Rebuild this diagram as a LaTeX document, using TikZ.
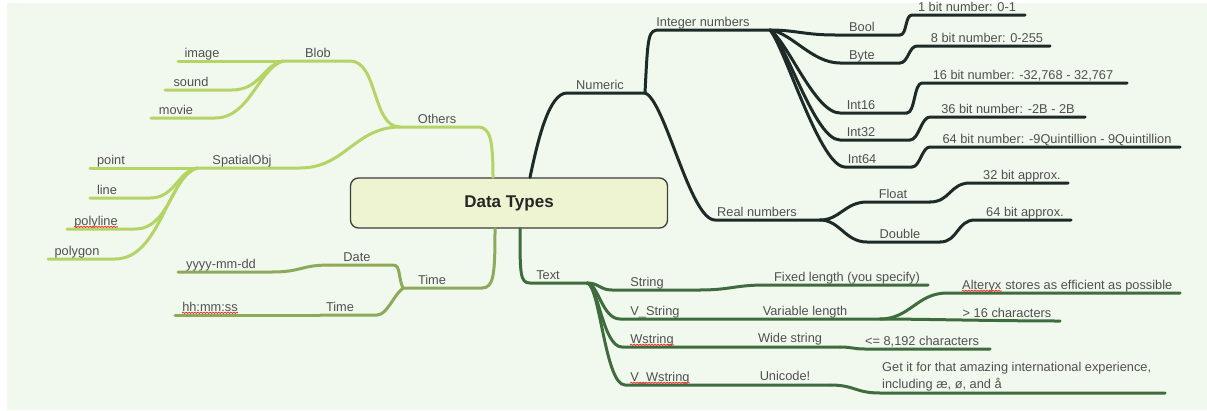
\documentclass[tikz,border=0pt]{standalone}
\usepackage{fontspec}
\setmainfont{Liberation Sans}
\usetikzlibrary{decorations.pathmorphing}
\definecolor{bg}{HTML}{F1F9EE}
\definecolor{cOth}{HTML}{B4D465}
\definecolor{cTim}{HTML}{8DAA5A}
\definecolor{cNum}{HTML}{1D2B28}
\definecolor{cTxt}{HTML}{3F6C3C}
\definecolor{lblc}{HTML}{505050}
\definecolor{rootfill}{HTML}{EEF4D2}
\definecolor{rootdraw}{HTML}{3A3F38}
\definecolor{spellred}{HTML}{E8423A}
\begin{document}
\begin{tikzpicture}[x=1pt,y=-1pt,
  lbl/.style={font=\fontsize{12.8}{15}\selectfont, text=lblc, inner sep=0pt, anchor=base},
  lblw/.style={lbl, anchor=base west},
  br/.style={line width=3pt, line cap=round, line join=round},
  oth/.style={br, draw=cOth},
  tim/.style={br, draw=cTim},
  num/.style={br, draw=cNum},
  txt/.style={br, draw=cTxt},
  spell/.style={draw=spellred, line width=0.9pt, decorate,
    decoration={snake, amplitude=0.6pt, segment length=3pt}}
]
\useasboundingbox (0,0) rectangle (1207,410);
\fill[bg] (7,3) rectangle (1207,410);

% central topic
\node[draw=rootdraw, fill=rootfill, rounded corners=8pt, line width=1.3pt,
  minimum width=317pt, minimum height=50pt,
  font=\fontsize{17}{20}\selectfont\bfseries, text=black!85] (root) at (509,203) {Data Types};

% ---------- Others ----------
\coordinate (othL) at (400,127); \coordinate (othR) at (478,127);
\draw[oth] ([xshift=-16pt]root.north) .. controls +(0,-38) and +(12,0) .. (othR) -- (othL);
\node[lbl] (nOthers) at (437,123) {Others};

\coordinate (blobR) at (350,61); \coordinate (blobL) at (283,61);
\draw[oth] (othL) .. controls +(-28,0) and +(28,0) .. (blobR) -- (blobL);
\node[lbl] (nBlob) at (318,57) {Blob};
\coordinate (imgL) at (178,61);
\draw[oth] (blobL) -- (imgL);
\node[lbl] (nImage) at (202,57) {image};
\coordinate (sndR) at (232,90); \coordinate (sndL) at (165,90);
\draw[oth] (blobL) .. controls +(-20,4) and +(28,0) .. (sndR) -- (sndL);
\node[lbl] (nSound) at (191,86) {sound};
\coordinate (movR) at (215,118); \coordinate (movL) at (151,118);
\draw[oth] (blobL) .. controls +(-25,8) and +(35,0) .. (movR) -- (movL);
\node[lbl] (nMovie) at (176,114) {movie};

\coordinate (spR) at (300,168); \coordinate (spL) at (197,168);
\draw[oth] (othL) .. controls +(-45,0) and +(45,0) .. (spR) -- (spL);
\node[lbl] (nSpatial) at (242,164) {SpatialObj};
\coordinate (ptL) at (90,168);
\draw[oth] (spL) -- (ptL);
\node[lbl] (nPoint) at (111,164) {point};
\coordinate (linR) at (150,198); \coordinate (linL) at (90,198);
\draw[oth] (spL) .. controls +(-20,4) and +(25,0) .. (linR) -- (linL);
\node[lbl] (nLine) at (107,194) {line};
\coordinate (plR) at (135,229); \coordinate (plL) at (67,229);
\draw[oth] (spL) .. controls +(-25,7) and +(35,0) .. (plR) -- (plL);
\node[lbl] (nPolyline) at (96,225) {polyline};
\coordinate (pgR) at (115,259); \coordinate (pgL) at (48,259);
\draw[oth] (spL) .. controls +(-30,10) and +(45,0) .. (pgR) -- (pgL);
\node[lbl] (nPolygon) at (77,255) {polygon};

% ---------- Time ----------
\coordinate (timL) at (403,288); \coordinate (timR) at (482,288);
\draw[tim] ([xshift=-14pt]root.south) .. controls +(0,45) and +(12,0) .. (timR) -- (timL);
\node[lbl] (nTime) at (432,284) {Time};
\coordinate (datR) at (393,265); \coordinate (datL) at (330,265);
\draw[tim] (timL) .. controls +(-5,-10) and +(8,0) .. (datR) -- (datL);
\node[lbl] (nDate) at (357,261) {Date};
\coordinate (ymdR) at (272,272); \coordinate (ymdL) at (178,272);
\draw[tim] (datL) .. controls +(-30,0) and +(30,0) .. (ymdR) -- (ymdL);
\node[lbl] (nYmd) at (221,268) {yyyy-mm-dd};
\coordinate (tcR) at (377,315); \coordinate (tcL) at (320,315);
\draw[tim] (timL) .. controls +(-10,8) and +(10,0) .. (tcR) -- (tcL);
\node[lbl] (nTimeC) at (340,311) {Time};
\coordinate (hhL) at (175,315);
\draw[tim] (tcL) -- (hhL);
\node[lbl] (nHh) at (210,311) {hh:mm:ss};

% ---------- Numeric ----------
\coordinate (numL) at (567,93); \coordinate (numR) at (645,93);
\draw[num] ([xshift=21pt]root.north) .. controls +(8,-38) and +(-18,0) .. (numL) -- (numR);
\node[lbl] (nNumeric) at (600,89) {Numeric};
\coordinate (intL) at (660,30); \coordinate (intR) at (770,30);
\draw[num] (numR) .. controls +(3,-60) and +(-12,0) .. (intL) -- (intR);
\node[lbl] (nInt) at (703,26) {Integer numbers};
\coordinate (realL) at (715,220); \coordinate (realR) at (820,220);
\draw[num] (numR) .. controls +(20,7) and +(-25,0) .. (realL) -- (realR);
\node[lbl] (nReal) at (757,216) {Real numbers};

\coordinate (fltL) at (867,202); \coordinate (fltR) at (930,202);
\draw[num] (realR) .. controls +(20,0) and +(-22,0) .. (fltL) -- (fltR);
\node[lbl] (nFloat) at (893,198) {Float};
\coordinate (b32L) at (970,183); \coordinate (b32R) at (1068,183);
\draw[num] (fltR) .. controls +(20,0) and +(-20,0) .. (b32L) -- (b32R);
\node[lbl] (n32) at (1022,179) {32 bit approx.};
\coordinate (dblL) at (867,242); \coordinate (dblR) at (940,242);
\draw[num] (realR) .. controls +(20,0) and +(-22,0) .. (dblL) -- (dblR);
\node[lbl] (nDouble) at (900,238) {Double};
\coordinate (b64L) at (975,220); \coordinate (b64R) at (1071,220);
\draw[num] (dblR) .. controls +(18,0) and +(-18,0) .. (b64L) -- (b64R);
\node[lbl] (n64) at (1025,216) {64 bit approx.};

% integer kinds
\coordinate (boolL) at (835,35); \coordinate (boolR) at (900,35);
\draw[num] (intR) .. controls +(25,0) and +(-30,0) .. (boolL) -- (boolR);
\node[lbl] (nBool) at (862,31) {Bool};
\coordinate (b1L) at (912,15); \coordinate (b1R) at (1025,15);
\draw[num] (boolR) .. controls +(7,0) and +(-7,0) .. (b1L) -- (b1R);
\node[lbl] (n1) at (967,11) {1 bit number: 0-1};

\coordinate (byteL) at (840,63); \coordinate (byteR) at (900,63);
\draw[num] (intR) .. controls +(22,3) and +(-28,0) .. (byteL) -- (byteR);
\node[lbl] (nByte) at (862,59) {Byte};
\coordinate (b8L) at (917,46); \coordinate (b8R) at (1050,46);
\draw[num] (byteR) .. controls +(8,0) and +(-8,0) .. (b8L) -- (b8R);
\node[lbl] (n8) at (987,42) {8 bit number: 0-255};

\coordinate (i16L) at (840,113); \coordinate (i16R) at (907,113);
\draw[num] (intR) .. controls +(18,12) and +(-25,0) .. (i16L) -- (i16R);
\node[lbl] (nI16) at (861,109) {Int16};
\coordinate (b16L) at (922,83); \coordinate (b16R) at (1127,83);
\draw[num] (i16R) .. controls +(8,0) and +(-8,0) .. (b16L) -- (b16R);
\node[lbl] (n16) at (1023,79) {16 bit number: -32,768 - 32,767};

\coordinate (i32L) at (840,140); \coordinate (i32R) at (910,140);
\draw[num] (intR) .. controls +(17,15) and +(-25,0) .. (i32L) -- (i32R);
\node[lbl] (nI32) at (861,136) {Int32};
\coordinate (b36L) at (930,117); \coordinate (b36R) at (1085,117);
\draw[num] (i32R) .. controls +(9,0) and +(-9,0) .. (b36L) -- (b36R);
\node[lbl] (n36) at (1008,113) {36 bit number: -2B - 2B};

\coordinate (i64L) at (845,167); \coordinate (i64R) at (912,167);
\draw[num] (intR) .. controls +(16,20) and +(-25,0) .. (i64L) -- (i64R);
\node[lbl] (nI64) at (862,163) {Int64};
\coordinate (bqL) at (930,147); \coordinate (bqR) at (1180,147);
\draw[num] (i64R) .. controls +(8,0) and +(-8,0) .. (bqL) -- (bqR);
\node[lbl] (nQ) at (1057,143) {64 bit number: -9Quintillion - 9Quintillion};

% ---------- Text ----------
\coordinate (txtL) at (530,283); \coordinate (txtR) at (587,283);
\draw[txt] ([xshift=11pt]root.south) .. controls +(0,45) and +(-10,0) .. (txtL) -- (txtR);
\node[lbl] (nText) at (548,279) {Text};

\coordinate (strL) at (612,290); \coordinate (strR) at (700,290);
\draw[txt] (txtR) .. controls +(12,0) and +(-12,0) .. (strL) -- (strR);
\node[lbl] (nString) at (647,286) {String};
\coordinate (fixL) at (765,285); \coordinate (fixR) at (928,285);
\draw[txt] (strR) .. controls +(30,0) and +(-30,0) .. (fixL) -- (fixR);
\node[lbl] (nFixed) at (847,281) {Fixed length (you specify)};

\coordinate (vsL) at (620,319); \coordinate (vsR) at (880,319);
\draw[txt] (txtR) .. controls +(11,0) and +(-18,0) .. (vsL) -- (vsR);
\node[lbl] (nVString) at (655,315) {V\_String};
\node[lbl] (nVar) at (805,315) {Variable length};
\coordinate (altL) at (947,293); \coordinate (altR) at (1180,293);
\draw[txt] (vsR) .. controls +(30,0) and +(-30,0) .. (altL) -- (altR);
\node[lblw] (nAltA) at (962,289) {Alteryx};
\node[lblw] (nAltB) at ([xshift=3.6pt]nAltA.base east) {stores as efficient as possible};
\coordinate (gtR) at (1060,321);
\draw[txt] (vsR) .. controls +(40,0) and +(-60,0) .. (gtR);
\node[lbl] (nGt) at (1007,317) {> 16 characters};

\coordinate (wsL) at (622,347); \coordinate (wsR) at (840,347);
\draw[txt] (txtR) .. controls +(11,1) and +(-19,0) .. (wsL) -- (wsR);
\node[lbl] (nWstring) at (652,343) {Wstring};
\node[lbl] (nWide) at (790,342) {Wide string};
\coordinate (leL) at (865,349); \coordinate (leR) at (990,349);
\draw[txt] (wsR) .. controls +(12,0) and +(-12,0) .. (leL) -- (leR);
\node[lbl] (nLe) at (922,345) {<= 8,192 characters};

\coordinate (vwL) at (625,385); \coordinate (vwR) at (830,385);
\draw[txt] (txtR) .. controls +(13,2) and +(-20,0) .. (vwL) -- (vwR);
\node[lbl] (nVW) at (660,381) {V\_Wstring};
\node[lbl] (nUni) at (785,380) {Unicode!};
\coordinate (getL) at (880,393); \coordinate (getR) at (1165,393);
\draw[txt] (vwR) .. controls +(25,0) and +(-25,0) .. (getL) -- (getR);
\node[lblw] (nGet1) at (882,371) {Get it for that amazing international experience,};
\node[lblw] (nGet2) at (882,388) {including æ, ø, and å};

% spell-check underlines
\foreach \w in {nPolyline,nHh,nWstring,nVW,nAltA}
  \draw[spell] ([yshift=-1.8pt]\w.base west) -- ([yshift=-1.8pt]\w.base east);
\end{tikzpicture}
\end{document}
